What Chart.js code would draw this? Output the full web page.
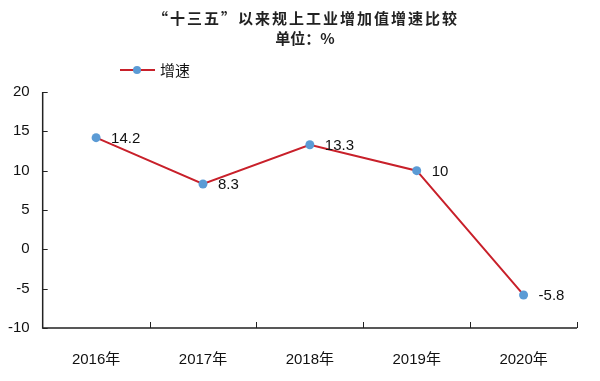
<!DOCTYPE html>
<html><head><meta charset="utf-8">
<script src="https://cdn.jsdelivr.net/npm/chart.js@4/dist/chart.umd.min.js"></script>
<style>html,body{margin:0;padding:0;background:#fff}#wrap{width:600px;height:381px}</style>
</head><body><div id="wrap"><canvas id="c"></canvas></div>
<script>
const categories = ["2016年", "2017年", "2018年", "2019年", "2020年"];
const growth = [14.2, 8.3, 13.3, 10, -5.8];
const seriesName = "增速";
const titleLines = ["“十三五”以来规上工业增加值增速比较", "单位：%"];
const yTicks = [-10, -5, 0, 5, 10, 15, 20];

const FONT = "'Liberation Sans', Arial, 'Noto Sans CJK SC', sans-serif";
const CJK = "'Noto Sans CJK SC', 'Liberation Sans', sans-serif";
const LINE = '#C8202A', DOT = '#5B9BD5', AX = '#222';

const extras = {
  id: 'extras',
  afterDraw(chart) {
    const ctx = chart.ctx, ca = chart.chartArea;
    const xs = chart.scales.x, ys = chart.scales.y;
    ctx.save();
    // title
    ctx.fillStyle = '#222';
    ctx.textAlign = 'center'; ctx.textBaseline = 'middle';
    ctx.font = "bold 15px " + CJK;
    ctx.letterSpacing = '2px';
    ctx.fillText(titleLines[0], 306, 18);
    ctx.letterSpacing = '0px';
    ctx.fillText(titleLines[1], 305, 38);
    // legend
    ctx.strokeStyle = LINE; ctx.lineWidth = 2;
    ctx.beginPath(); ctx.moveTo(120, 70); ctx.lineTo(155, 70); ctx.stroke();
    ctx.fillStyle = DOT; ctx.beginPath(); ctx.arc(137, 70, 4, 0, Math.PI*2); ctx.fill();
    ctx.fillStyle = '#111'; ctx.textAlign = 'left';
    ctx.font = "15px " + CJK;
    ctx.fillText(seriesName, 160, 70);
    // axes
    ctx.strokeStyle = AX; ctx.lineWidth = 1.5;
    ctx.beginPath();
    ctx.moveTo(ca.left, ca.top); ctx.lineTo(ca.left, ca.bottom); ctx.lineTo(ca.right, ca.bottom);
    ctx.stroke();
    ctx.lineWidth = 1;
    yTicks.forEach(v => {
      const y = Math.round(ys.getPixelForValue(v)) + 0.5;
      ctx.beginPath(); ctx.moveTo(ca.left, y); ctx.lineTo(ca.left + 5, y); ctx.stroke();
    });
    const n = categories.length, w = (ca.right - ca.left) / n;
    for (let i = 1; i <= n; i++) {
      const x = Math.round(ca.left + i * w) + 0.5;
      ctx.beginPath(); ctx.moveTo(x, ca.bottom); ctx.lineTo(x, ca.bottom - 6); ctx.stroke();
    }
    // data labels
    const meta = chart.getDatasetMeta(0);
    ctx.fillStyle = '#111'; ctx.font = "15px " + FONT;
    ctx.textAlign = 'left'; ctx.textBaseline = 'middle';
    meta.data.forEach((pt, i) => {
      ctx.fillText(String(growth[i]), pt.x + 15, pt.y + 1);
    });
    ctx.restore();
  }
};

new Chart(document.getElementById('c'), {
  type: 'line',
  data: {
    labels: categories,
    datasets: [{
      label: seriesName,
      data: growth,
      borderColor: LINE,
      borderWidth: 2,
      pointRadius: 4.5,
      pointHoverRadius: 4.5,
      pointBackgroundColor: DOT,
      pointBorderWidth: 0,
      tension: 0
    }]
  },
  options: {
    responsive: true,
    maintainAspectRatio: false,
    animation: false,
    layout: { padding: { top: 92, right: 23, left: -5, bottom: -11 } },
    plugins: { legend: { display: false }, title: { display: false }, tooltip: { enabled: false } },
    scales: {
      x: {
        offset: true,
        grid: { display: false, drawTicks: false },
        border: { display: false },
        ticks: { color: '#111', font: { size: 15, family: FONT }, padding: 23 }
      },
      y: {
        min: -10, max: 20,
        grid: { display: false, drawTicks: false },
        border: { display: false },
        ticks: { stepSize: 5, color: '#111', font: { size: 15, family: FONT }, padding: 13 }
      }
    }
  },
  plugins: [extras]
});
</script></body></html>
